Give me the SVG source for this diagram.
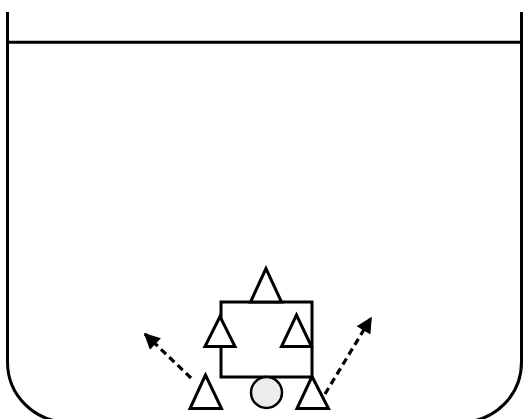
<svg xmlns="http://www.w3.org/2000/svg" width="525" height="419" viewBox="0 0 525 419">
<style>
.ln{fill:none;stroke:#000;stroke-width:3}
.tri{fill:#fff;stroke:#000;stroke-width:3;stroke-linejoin:miter}
.dash{fill:none;stroke:#000;stroke-width:3.2;stroke-dasharray:7 4.5}
</style>
<defs>
<marker id="ah" viewBox="0 0 10 10" refX="9" refY="5" markerWidth="5.5" markerHeight="5" orient="auto" markerUnits="strokeWidth">
<path d="M0,0 L10,5 L0,10 z" fill="#000"/>
</marker>
</defs>
<rect width="525" height="419" fill="#fff"/>
<g id="field">
<path class="ln" d="M7.5,12 V362 A60,60 0 0 0 67.5,422 H461.5 A60,60 0 0 0 521.5,362 V12"/>
<line class="ln" x1="7.5" y1="42.3" x2="521.5" y2="42.3"/>
</g>
<g id="box">
<rect class="ln" x="221" y="302" width="91" height="75"/>
</g>
<g id="connectors">
<line class="dash" x1="191" y1="378" x2="145" y2="334" marker-end="url(#ah)"/>
<line class="dash" x1="325" y1="394" x2="371" y2="318" marker-end="url(#ah)"/>
</g>
<g id="tri-top"><polygon class="tri" points="266,268.5 250.5,302 281.5,302"/></g>
<g id="tri-left"><polygon class="tri" points="220,316.5 205,346.5 235,346.5"/></g>
<g id="tri-right"><polygon class="tri" points="296.5,315 281.5,346.5 311.5,346.5"/></g>
<g id="tri-bl"><polygon class="tri" points="205.5,375 190,408.5 221.5,408.5"/></g>
<g id="tri-br"><polygon class="tri" points="312,376.5 297,408.5 328.5,408.5"/></g>
<g id="ball"><circle cx="266.5" cy="392.5" r="15.5" fill="#ececec" stroke="#000" stroke-width="2.5"/></g>
</svg>
